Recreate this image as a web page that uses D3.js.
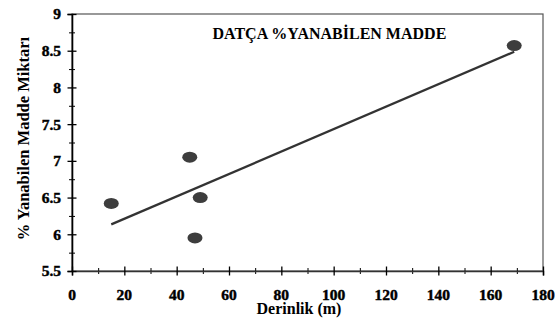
<!DOCTYPE html>
<html><head><meta charset="utf-8">
<script src="https://cdn.jsdelivr.net/npm/d3@7/dist/d3.min.js"></script>
<style>
html,body{margin:0;padding:0;background:#fff;}
svg text{font-family:"Liberation Serif",serif;font-weight:700;fill:#000;}
.tk{stroke:#000;stroke-width:0.45px;}
</style></head>
<body><svg id="c" width="558" height="324"></svg>
<script>
const depth = [15, 45, 47, 49, 169];
const value = [6.42, 7.05, 5.95, 6.50, 8.57];
const xTicks = [0, 20, 40, 60, 80, 100, 120, 140, 160, 180];
const yTicks = [5.5, 6, 6.5, 7, 7.5, 8, 8.5, 9];
const title = "DATÇA %YANABİLEN MADDE";
const xTitle = "Derinlik (m)";
const yTitle = "% Yanabilen Madde Miktarı";

const svg = d3.select("#c");
const L = 72, R = 543, T = 14, B = 271;
const x = d3.scaleLinear().domain([0, 180]).range([L, R]);
const y = d3.scaleLinear().domain([5.5, 9]).range([B, T]);

// frame
svg.append("rect").attr("x", L).attr("y", T).attr("width", R - L).attr("height", B - T)
  .attr("fill", "none").attr("stroke", "#555").attr("stroke-width", 1.2);

// minor ticks
const xMinor = d3.range(10, 180, 20);
const yMinor = d3.range(5.75, 9, 0.5);
const gxm = svg.append("g").attr("transform", `translate(0,${B})`)
  .call(d3.axisBottom(x).tickValues(xMinor).tickFormat("").tickSize(3));
gxm.select(".domain").remove();
gxm.selectAll(".tick line").attr("y1", -3).attr("y2", 3).attr("stroke", "#000");
const gym = svg.append("g").attr("transform", `translate(${L},0)`)
  .call(d3.axisLeft(y).tickValues(yMinor).tickFormat("").tickSize(3));
gym.select(".domain").remove();
gym.selectAll(".tick line").attr("x1", -3).attr("x2", 3).attr("stroke", "#000");

// major axes (labels drawn separately below)
const gx = svg.append("g").attr("transform", `translate(0,${B})`)
  .call(d3.axisBottom(x).tickValues(xTicks).tickFormat("").tickSizeOuter(0).tickSize(4.5));
gx.select(".domain").attr("stroke", "#333").attr("stroke-width", 1.5);
gx.selectAll(".tick line").attr("y1", -4.5).attr("y2", 4.5).attr("stroke", "#000").attr("stroke-width", 1.3);
gx.selectAll(".tick text").remove();

const gy = svg.append("g").attr("transform", `translate(${L},0)`)
  .call(d3.axisLeft(y).tickValues(yTicks).tickFormat("").tickSizeOuter(0).tickSize(4.5));
gy.select(".domain").attr("stroke", "#000").attr("stroke-width", 1.6);
gy.selectAll(".tick line").attr("x1", -4.5).attr("x2", 4.5).attr("stroke", "#000").attr("stroke-width", 1.3);
gy.selectAll(".tick text").remove();

svg.append("g").selectAll("text").data(xTicks).join("text").attr("class", "tk")
  .attr("x", d => x(d)).attr("y", B + 28.5).attr("text-anchor", "middle")
  .attr("font-size", 15.5).text(d => d);
svg.append("g").selectAll("text").data(yTicks).join("text").attr("class", "tk")
  .attr("x", L - 11).attr("y", d => y(d)).attr("dy", "0.35em").attr("text-anchor", "end")
  .attr("font-size", 15.5).text(d => d);

// trendline (least squares)
const mx = d3.mean(depth), my = d3.mean(value);
const slope = d3.sum(depth, (d, i) => (d - mx) * (value[i] - my)) / d3.sum(depth, d => (d - mx) ** 2);
const icpt = my - slope * mx;
const ext = d3.extent(depth);
svg.append("line")
  .attr("x1", x(ext[0])).attr("y1", y(icpt + slope * ext[0]))
  .attr("x2", x(ext[1])).attr("y2", y(icpt + slope * ext[1]))
  .attr("stroke", "#333").attr("stroke-width", 2.3);

// points
svg.append("g").selectAll("ellipse").data(depth).join("ellipse")
  .attr("cx", d => x(d)).attr("cy", (d, i) => y(value[i]))
  .attr("rx", 7.5).attr("ry", 5.5).attr("fill", "#3d3d3d");

// texts
svg.append("text").attr("x", 212.5).attr("y", 39.3).attr("font-size", 16).text(title);
svg.append("text").attr("x", 299).attr("y", 314).attr("text-anchor", "middle").attr("font-size", 16).text(xTitle);
svg.append("text").attr("transform", "translate(29,138.5) rotate(-90)").attr("text-anchor", "middle")
  .attr("font-size", 16.5).text(yTitle);
</script></body></html>
